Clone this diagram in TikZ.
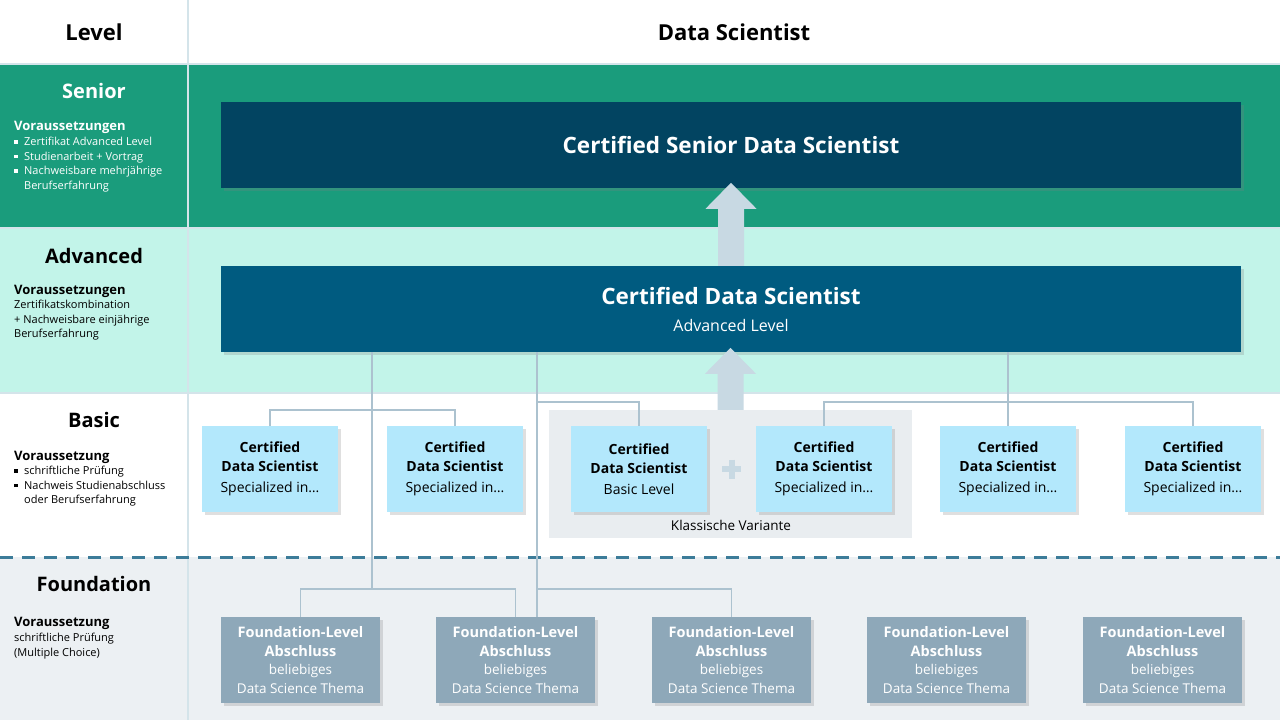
\documentclass[tikz,border=0pt]{standalone}
\usepackage{fontspec}
\setmainfont{Open Sans}
\usetikzlibrary{shadows,calc}
\definecolor{seniorband}{RGB}{26,156,124}
\definecolor{advband}{RGB}{194,244,233}
\definecolor{foundband}{RGB}{236,240,243}
\definecolor{seniorbox}{RGB}{2,68,97}
\definecolor{advbox}{RGB}{0,91,128}
\definecolor{basicblue}{RGB}{179,232,252}
\definecolor{foundgrey}{RGB}{142,168,185}
\definecolor{klassikgrey}{RGB}{233,237,240}
\definecolor{arrowgrey}{RGB}{200,217,227}
\definecolor{linkgrey}{RGB}{172,194,207}
\definecolor{sepline}{RGB}{212,228,234}
\definecolor{dashblue}{RGB}{60,124,153}
\newcommand{\sqb}{\makebox[10pt][l]{\raisebox{2pt}{\rule{3.5pt}{3.5pt}}}}
\begin{document}
\begin{tikzpicture}[x=1pt,y=-1pt,
  boxshadow/.style={drop shadow={shadow xshift=2.5pt,shadow yshift=-2.5pt,opacity=.25}},
  topbox/.style={boxshadow,minimum width=1020pt,minimum height=86pt,inner sep=0pt,align=center,text=white},
  basicbox/.style={boxshadow,fill=basicblue,minimum width=136pt,minimum height=86pt,inner sep=0pt,align=center,font=\fontsize{14}{19}\selectfont},
  foundbox/.style={boxshadow,fill=foundgrey,minimum width=159pt,minimum height=86pt,inner sep=0pt,align=center,text=white,font=\fontsize{13.5}{18.5}\selectfont},
  link/.style={draw=linkgrey,line width=1.5pt},
  bigarrow/.style={fill=arrowgrey},
  headname/.style={font=\bfseries\fontsize{22}{24}\selectfont},
  levelname/.style={font=\bfseries\fontsize{20}{24}\selectfont},
  condhead/.style={anchor=base west,inner sep=0pt,font=\bfseries\fontsize{13}{15}\selectfont},
  cond/.style={anchor=north west,align=left,inner sep=0pt,font=\fontsize{11}{14.5}\selectfont},
]
\useasboundingbox (0,0) rectangle (1280,720);
\fill[white] (0,0) rectangle (1280,64);
\fill[seniorband] (0,64) rectangle (1280,228);
\fill[advband] (0,228) rectangle (1280,393);
\fill[white] (0,393) rectangle (1280,557);
\fill[foundband] (0,557) rectangle (1280,720);
\draw[sepline,line width=1.5pt] (188,0)--(188,720) (0,64)--(1280,64) (0,228)--(1280,228) (0,393)--(1280,393);
\draw[dashblue,line width=3pt,dash pattern=on 13pt off 9pt] (0,557)--(1280,557);
\node[headname] (lvl) at (94,32) {Level};
\node[headname] (ds) at (734,32) {Data Scientist};
\node[levelname,text=white] (tsen) at (94,91) {Senior};
\node[condhead,text=white] (hsen) at (14,130) {Voraussetzungen};
\node[cond,text=white] (csen) at (14,137) {\sqb Zertifikat Advanced Level\\\sqb Studienarbeit + Vortrag\\\sqb Nachweisbare mehrjährige\\\hspace*{10pt}Berufserfahrung};
\node[levelname] (tadv) at (94,256) {Advanced};
\node[condhead] (hadv) at (14,294) {Voraussetzungen};
\node[cond] (cadv) at (14,300) {Zertifikatskombination\\+ Nachweisbare einjährige\\Berufserfahrung};
\node[levelname] (tbas) at (94,420) {Basic};
\node[condhead] (hbas) at (14,460) {Voraussetzung};
\node[cond] (cbas) at (14,466) {\sqb schriftliche Prüfung\\\sqb Nachweis Studienabschluss\\\hspace*{10pt}oder Berufserfahrung};
\node[levelname] (tfou) at (94,584) {Foundation};
\node[condhead] (hfou) at (14,626) {Voraussetzung};
\node[cond] (cfou) at (14,633) {schriftliche Prüfung\\(Multiple Choice)};
\node[fill=klassikgrey,minimum width=363pt,minimum height=128pt,inner sep=0pt] (kv) at (730.5,474) {};
\node[font=\fontsize{13.5}{16}\selectfont] (kvl) at (731,525) {Klassische Variante};
\node[topbox,fill=seniorbox,font=\bfseries\fontsize{22.5}{26}\selectfont] (sen) at (731,145) {Certified Senior Data Scientist};
\node[topbox,fill=advbox,font=\fontsize{22.5}{27}\selectfont] (adv) at (731,309) {\textbf{Certified Data Scientist}\\{\fontsize{16}{20}\selectfont Advanced Level}};
\foreach \i/\x/\sub in {1/270/Specialized in…,2/455/Specialized in…,3/639/Basic Level,4/824/Specialized in…,5/1008/Specialized in…,6/1193/Specialized in…}
  \node[basicbox] (b\i) at (\x,469) {\textbf{Certified}\\\textbf{Data Scientist}\\[2pt]\sub};
\foreach \i/\x in {1/300.5,2/515.5,3/731.5,4/946.5,5/1162.5}
  \node[foundbox] (f\i) at (\x,660) {{\bfseries\fontsize{14.5}{18.5}\selectfont Foundation-Level}\\{\bfseries\fontsize{14.5}{18.5}\selectfont Abschluss}\\beliebiges\\Data Science Thema};
\coordinate (j1) at (372,589);
\coordinate (j2) at (372,410);
\coordinate (j3) at (537,589);
\coordinate (j4) at (537,402);
\coordinate (j5) at (1008,402);
\draw[link] (adv.south -| j1) -- (j1);
\draw[link] (f1.north) |- (j1) -| (f2.north);
\draw[link] (b1.north) |- (j2) -| (b2.north);
\draw[link] (adv.south -| j3) -- (f2.north -| j3);
\draw[link] (j3) -| (f3.north);
\draw[link] (j4) -| (b3.north);
\draw[link] (adv.south -| j5) -- (b5.north);
\draw[link] (b4.north) |- (j5) -| (b6.north);
\fill[bigarrow] (adv.north) ++(-13,0) -- ++(0,-57) -- ++(-12.5,0) -- ++(25.5,-26) -- ++(25.5,26) -- ++(-12.5,0) -- ++(0,57) -- cycle;
\fill[bigarrow] (kv.north) ++(-13,0) -- ++(0,-36) -- ++(-12.5,0) -- ++(25.5,-26) -- ++(25.5,26) -- ++(-12.5,0) -- ++(0,36) -- cycle;
\coordinate (plus) at ($(b3.east)!0.5!(b4.west)$);
\draw[arrowgrey,line width=6pt] (plus) ++(-9.5,0) -- ++(19,0) (plus) ++(0,-9.5) -- ++(0,19);
\end{tikzpicture}
\end{document}
